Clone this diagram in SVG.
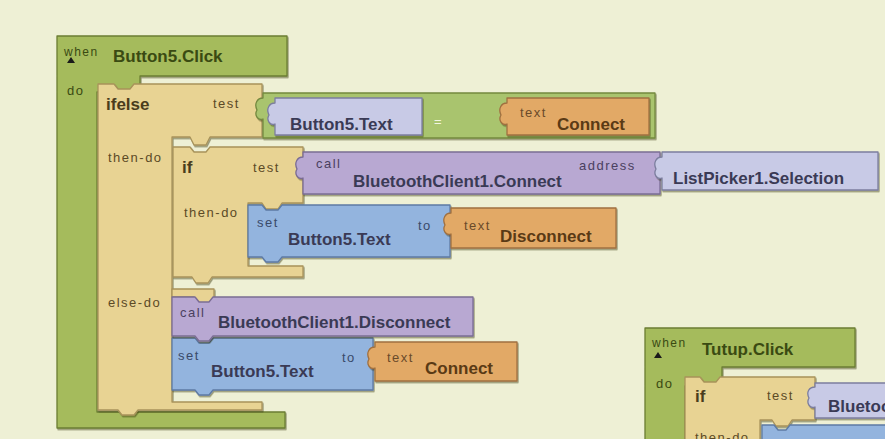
<svg xmlns="http://www.w3.org/2000/svg" width="885" height="439" viewBox="0 0 885 439">
<defs>
<filter id="sh" x="-5%" y="-5%" width="110%" height="120%"><feDropShadow dx="1" dy="1.5" stdDeviation="0.7" flood-color="#2a2a10" flood-opacity="0.45"/></filter>
<clipPath id="vp"><rect x="0" y="0" width="885" height="439"/></clipPath>
<style>
.blk{stroke-width:1.3;filter:url(#sh);stroke-linejoin:round}
.ev{fill:#a5bb5b;stroke:#6b7d33}
.eq{fill:#a9c46e;stroke:#74893f}
.tan{fill:#e8d393;stroke:#a8935a}
.lav{fill:#c8cae6;stroke:#7c7e9e}
.pur{fill:#b8a8d2;stroke:#7a6c94}
.blu{fill:#93b4de;stroke:#5d7aa4}
.org{fill:#e2a966;stroke:#a07040}
.lb{font-family:"Liberation Sans",Arial,sans-serif;font-weight:bold;font-size:17px}
.sm{font-family:"Liberation Sans",Arial,sans-serif;font-size:13px;letter-spacing:1.5px}
.wh{font-family:"Liberation Sans",Arial,sans-serif;font-size:12px;letter-spacing:1.5px}
.tg{fill:#3a4a12}
.tt{fill:#4a3c1c}
.ts{fill:#5c4a26}
.tp{fill:#3a3a55}
.tps{fill:#4a4060}
.tb{fill:#3a4a6a}
.to{fill:#5a3a15}
.tos{fill:#6a4a2a}
</style>
</defs>
<rect width="885" height="439" fill="#eef0d5"/>
<g id="connectors"/>
<g clip-path="url(#vp)">
<g id="button5-click">
<path class="blk ev" d="M57,36 H287 V76 H140 V92 H97 V412 H285 V428 H57 Z"/>
<text class="wh tg" x="64" y="56">when</text>
<path d="M67,63 L71,57 L75,63 Z" fill="#1a1a1a"/>
<text class="lb tg" x="113" y="62">Button5.Click</text>
<text class="sm tg" x="67" y="95">do</text>
</g>
<g id="ifelse">
<path class="blk tan" d="M98,84 H114 L118,89 H130 L134,84 H262 V137 H210 L206,145 H194 L190,137 H172 V402 H262 V410 H138 L134,415 H122 L118,410 H98 Z"/>
<path class="blk tan" d="M172,289 H214 V297 L210,303 H198 L194,297 H172 Z"/>
<text class="lb tt" x="106" y="110">ifelse</text>
<text class="sm ts" x="213" y="108">test</text>
<text class="sm ts" x="108" y="162">then-do</text>
<text class="sm ts" x="108" y="307">else-do</text>
</g>
<g id="equals">
<path class="blk eq" d="M263,93 H655 V138 H263 V119 C258,121 254,115 257,110 C254,104 257,98 263,98 Z"/>
<text class="sm" fill="#f2f5e2" x="434" y="126">=</text>
</g>
<g id="button5-text-get">
<path class="blk lav" d="M275,98 H422 V135 H275 V124 C270,126 266,120 269,115 C266,109 269,103 275,103 Z"/>
<text class="lb tp" x="290" y="130">Button5.Text</text>
</g>
<g id="text-connect-1">
<path class="blk org" d="M507,98 H649 V135 H507 V124 C502,126 498,120 501,115 C498,109 501,103 507,103 Z"/>
<text class="sm tos" x="520" y="117">text</text>
<text class="lb to" x="557" y="130">Connect</text>
</g>
<g id="if-1">
<path class="blk tan" d="M173,147 H190 L194,152 H206 L210,147 H303 V203 H282 L278,209 H266 L262,203 H248 V266 H303 V277 H212 L208,283 H196 L192,277 H173 Z"/>
<text class="lb tt" x="182" y="173">if</text>
<text class="sm ts" x="253" y="172">test</text>
<text class="sm ts" x="184" y="217">then-do</text>
</g>
<g id="call-connect">
<path class="blk pur" d="M303,152 H660 V194 H303 V178 C298,180 294,174 297,169 C294,163 297,157 303,157 Z"/>
<text class="sm tps" x="316" y="168">call</text>
<text class="lb tp" x="353" y="187">BluetoothClient1.Connect</text>
<text class="sm tps" x="579" y="170">address</text>
</g>
<g id="listpicker-selection">
<path class="blk lav" d="M662,152 H878 V190 H662 V178 C657,180 653,174 656,169 C653,163 656,157 662,157 Z"/>
<text class="lb tp" x="673" y="184">ListPicker1.Selection</text>
</g>
<g id="set-1">
<path class="blk blu" d="M248,205 H262 L266,210 H278 L282,205 H450 V257 H282 L278,262 H266 L262,257 H248 Z"/>
<text class="sm tb" x="257" y="227">set</text>
<text class="lb tp" x="288" y="245">Button5.Text</text>
<text class="sm tb" x="418" y="230">to</text>
</g>
<g id="text-disconnect">
<path class="blk org" d="M451,208 H616 V248 H451 V234 C446,236 442,230 445,225 C442,219 445,213 451,213 Z"/>
<text class="sm tos" x="464" y="230">text</text>
<text class="lb to" x="500" y="242">Disconnect</text>
</g>
<g id="set-2">
<path class="blk blu" d="M172,338 H195 L199,343 H209 L213,338 H373 V390 H213 L209,395 H199 L195,390 H172 Z"/>
<text class="sm tb" x="178" y="360">set</text>
<text class="lb tp" x="211" y="377">Button5.Text</text>
<text class="sm tb" x="342" y="362">to</text>
</g>
<g id="call-disconnect">
<path class="blk pur" d="M172,297 H195 L199,302 H209 L213,297 H473 V336 H213 L209,341 H199 L195,336 H172 Z"/>
<text class="sm tps" x="180" y="317">call</text>
<text class="lb tp" x="218" y="328">BluetoothClient1.Disconnect</text>
</g>
<g id="text-connect-2">
<path class="blk org" d="M375,342 H517 V381 H375 V368 C370,370 366,364 369,359 C366,353 369,347 375,347 Z"/>
<text class="sm tos" x="387" y="362">text</text>
<text class="lb to" x="425" y="374">Connect</text>
</g>
<g id="tutup-click">
<path class="blk ev" d="M645,328 H855 V367 H722 V386 H685 V445 H645 Z"/>
<text class="wh tg" x="652" y="347">when</text>
<path d="M654,358 L658,352 L662,358 Z" fill="#1a1a1a"/>
<text class="lb tg" x="702" y="355">Tutup.Click</text>
<text class="sm tg" x="656" y="388">do</text>
</g>
<g id="if-2">
<path class="blk tan" d="M685,377 H700 L704,382 H716 L720,377 H815 V420 H792 L788,426 H776 L772,420 H760 V445 H685 Z"/>
<text class="lb tt" x="695" y="402">if</text>
<text class="sm ts" x="767" y="400">test</text>
<text class="sm ts" x="695" y="442">then-do</text>
</g>
<g id="bluetooth-get">
<path class="blk lav" d="M815,383 H895 V418 H815 V407 C810,409 806,403 809,398 C806,392 809,387 815,387 Z"/>
<text class="lb tp" x="828" y="412">Bluetoo</text>
</g>
<g id="set-3">
<path class="blk blu" d="M762,425 H774 L778,430 H786 L790,425 H895 V450 H762 Z"/>
</g>
</g>
</svg>
